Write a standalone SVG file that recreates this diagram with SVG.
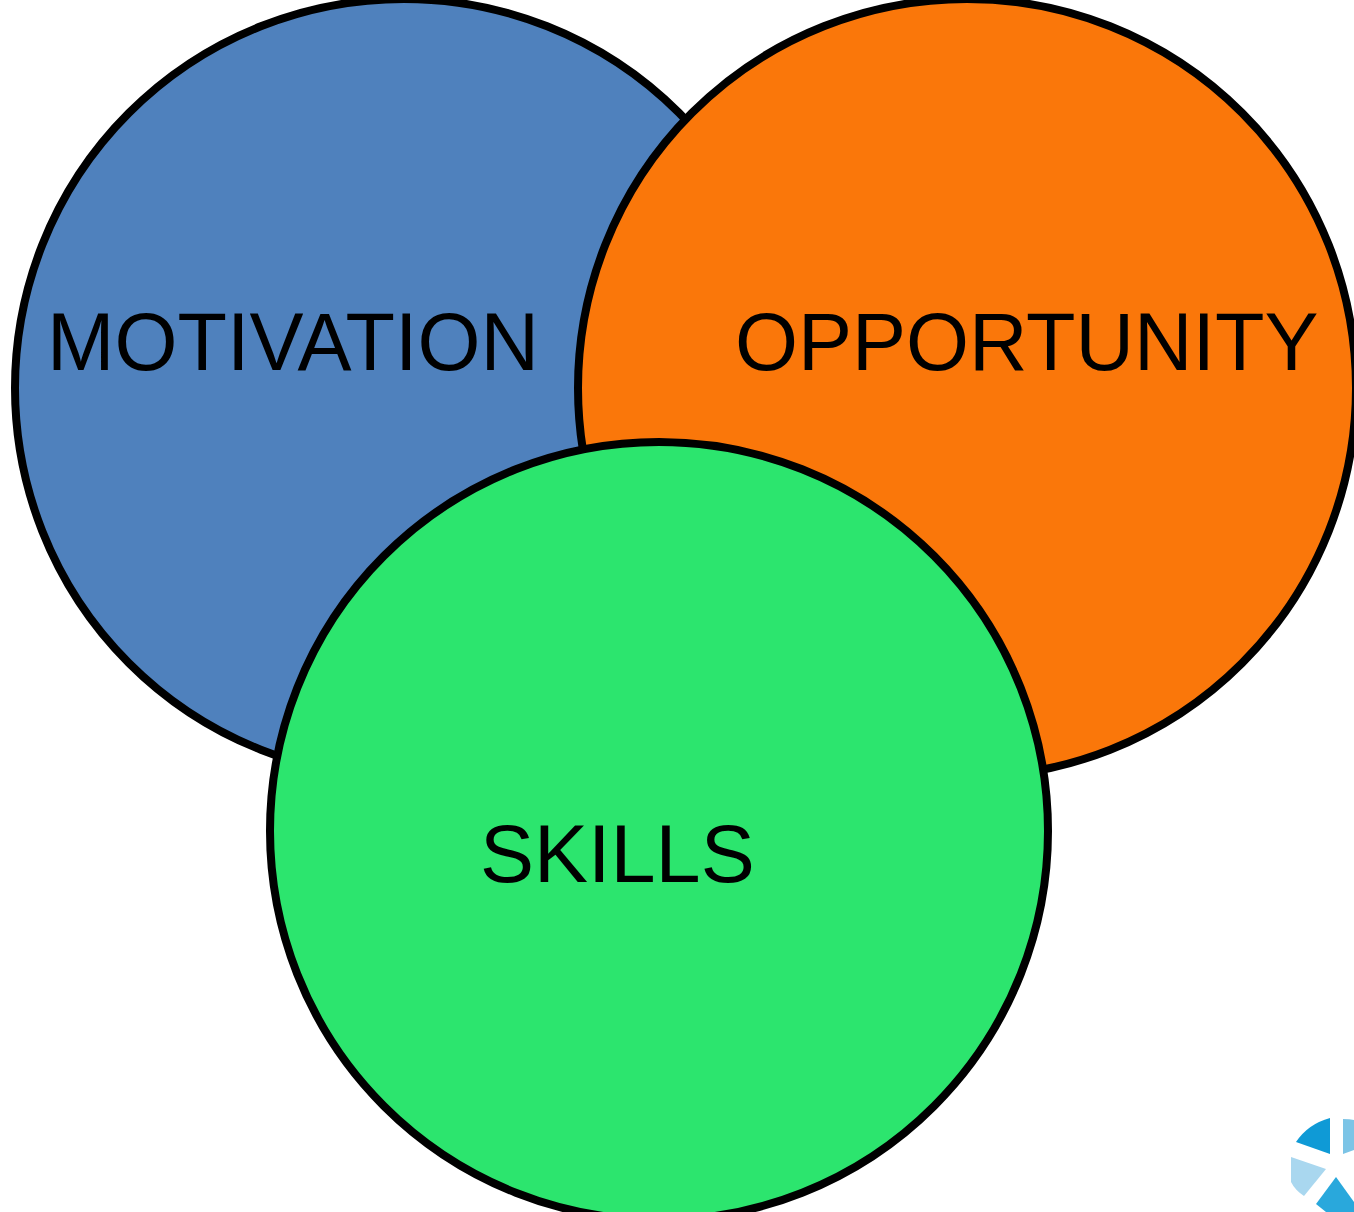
<svg xmlns="http://www.w3.org/2000/svg" width="1354" height="1212" viewBox="0 0 1354 1212">
<style>
.c{stroke:#000;stroke-width:8}
.t{font-family:"Liberation Sans",Arial,sans-serif;font-size:81px;fill:#000}
</style>
<rect width="1354" height="1212" fill="#fff"/>
<g id="motivation"><circle class="c" cx="404" cy="388" r="389" fill="#4f81bd"/><text class="t" x="47" y="370">MOTIVATION</text></g>
<g id="opportunity"><circle class="c" cx="967" cy="388" r="389" fill="#fa770a"/><text class="t" x="735" y="370">OPPORTUNITY</text></g>
<g id="skills"><circle class="c" cx="659" cy="831" r="389" fill="#2ce56e"/><text class="t" x="480" y="882">SKILLS</text></g>
<g id="connectors"/>
<g id="logo">
<path d="M1296 1142Q1308 1124 1330 1118V1154Z" fill="#0f9ad6"/>
<path d="M1343 1119Q1350 1119 1354 1120V1150L1343 1154Z" fill="#7cc4e6"/>
<path d="M1291 1157L1326 1169L1304 1196Q1295 1190 1291 1182Z" fill="#a9d7ef"/>
<path d="M1336 1177L1316 1204L1326 1212H1354V1202Z" fill="#29a8dc"/>
</g>
</svg>
